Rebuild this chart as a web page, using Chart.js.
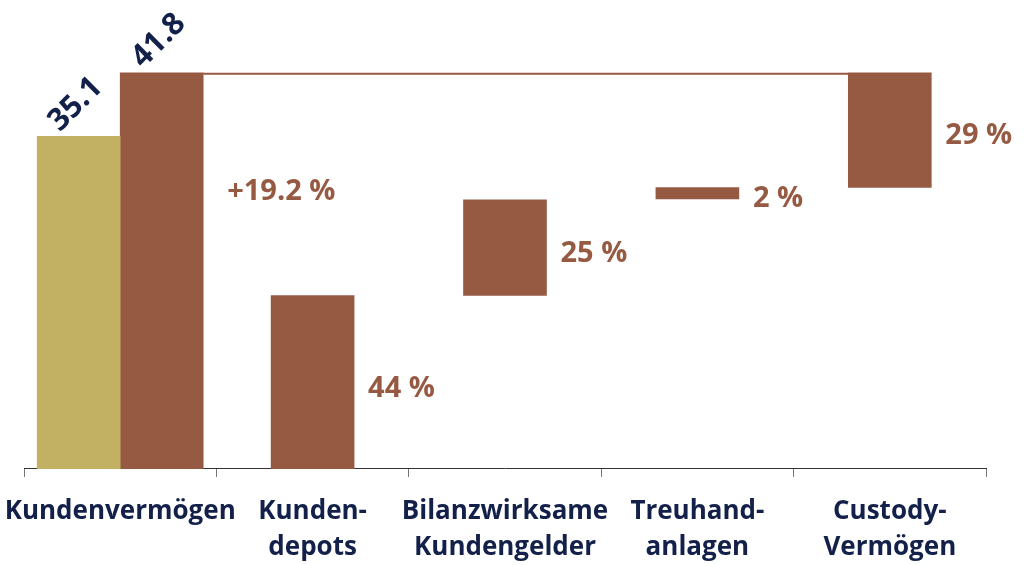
<!DOCTYPE html>
<html>
<head>
<meta charset="utf-8">
<script src="https://cdn.jsdelivr.net/npm/chart.js@4/dist/chart.umd.min.js"></script>
<style>
  html, body { margin: 0; padding: 0; background: #ffffff; }
  #wrap { width: 1027px; height: 565px; position: relative; }
</style>
</head>
<body>
<div id="wrap"><canvas id="c"></canvas></div>
<script>
// ---- Data ----
const categories = [
  ["Kundenvermögen"],
  ["Kunden-", "depots"],
  ["Bilanzwirksame", "Kundengelder"],
  ["Treuhand-", "anlagen"],
  ["Custody-", "Vermögen"]
];
const previousTotal = [35.1, null, null, null, null];   // gold bar
const segmentStart  = [0, 0, 18.3, 28.5, 29.7];          // brown bars (floating)
const segmentEnd    = [41.8, 18.3, 28.4, 29.7, 41.8];
const shareLabels   = [null, "44 %", "25 %", "2 %", "29 %"];
const growthLabel   = "+19.2 %";

const GOLD = "#C2B063";
const BROWN = "#965A43";
const NAVY = "#13214A";
const FONT = "'Open Sans', 'Noto Sans', sans-serif";

const brownData = segmentStart.map((s, i) => [s, segmentEnd[i]]);

const annotations = {
  id: "annotations",
  afterDatasetsDraw(chart) {
    const ctx = chart.ctx;
    const ys = chart.scales.y;
    const goldBar = chart.getDatasetMeta(0).data[0].getProps(["x", "y", "width"], true);
    const bars = chart.getDatasetMeta(1).data.map(b => b.getProps(["x", "y", "base", "width"], true));

    ctx.save();
    // connector line at the current total
    const topY = ys.getPixelForValue(segmentEnd[0]);
    ctx.strokeStyle = BROWN;
    ctx.lineWidth = 2;
    ctx.beginPath();
    ctx.moveTo(bars[0].x + bars[0].width / 2, topY + 1);
    ctx.lineTo(bars[4].x - bars[4].width / 2, topY + 1);
    ctx.stroke();

    // rotated totals
    ctx.fillStyle = NAVY;
    ctx.font = "bold 31px " + FONT;
    ctx.textAlign = "center";
    ctx.textBaseline = "middle";
    const totals = [
      { x: goldBar.x, y: goldBar.y, v: previousTotal[0] },
      { x: bars[0].x, y: bars[0].y, v: segmentEnd[0] }
    ];
    totals.forEach(t => {
      ctx.save();
      ctx.translate(t.x - 3, t.y - 32);
      ctx.rotate(-Math.PI / 4);
      ctx.fillText(t.v.toFixed(1), 0, 0);
      ctx.restore();
    });

    // growth label
    ctx.fillStyle = BROWN;
    ctx.font = "bold 29px " + FONT;
    ctx.textAlign = "left";
    ctx.fillText(growthLabel, bars[0].x + bars[0].width / 2 + 24, bars[0].y + 0.3 * (bars[0].base - bars[0].y));

    // share labels
    for (let i = 1; i < bars.length; i++) {
      const b = bars[i];
      const mid = (b.y + b.base) / 2;
      ctx.fillText(shareLabels[i], b.x + b.width / 2 + 14, mid + 6);
    }
    ctx.restore();
  }
};

new Chart(document.getElementById("c"), {
  type: "bar",
  data: {
    labels: categories,
    datasets: [
      { data: previousTotal, backgroundColor: GOLD, borderWidth: 0, barThickness: 83 },
      { data: brownData, backgroundColor: BROWN, borderWidth: 0, barThickness: 83 }
    ]
  },
  options: {
    responsive: true,
    maintainAspectRatio: false,
    animation: false,
    skipNull: true,
    layout: { padding: { left: 24, right: 41, top: 14, bottom: -18 } },
    plugins: { legend: { display: false }, tooltip: { enabled: false } },
    scales: {
      x: {
        afterFit(scale) { scale.paddingLeft = 0; scale.paddingRight = 0; },
        grid: { display: true, drawOnChartArea: false, drawTicks: true, tickLength: 8, color: "#777777", offset: true },
        border: { display: true, color: "#333333", width: 1 },
        ticks: {
          color: NAVY,
          padding: 17,
          maxRotation: 0,
          autoSkip: false,
          font: { family: FONT, size: 26, weight: "bold", lineHeight: 1.385 }
        }
      },
      y: {
        display: false,
        min: 0,
        max: 48
      }
    }
  },
  plugins: [annotations]
});
</script>
</body>
</html>
